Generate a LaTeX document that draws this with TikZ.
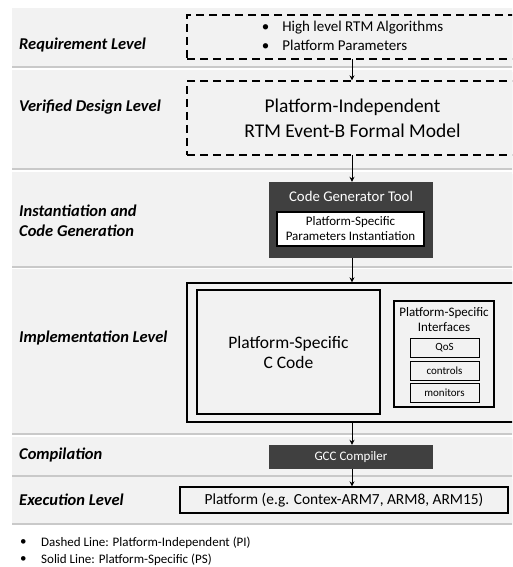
\documentclass[tikz,border=0pt]{standalone}
\usepackage{fontspec}
\setmainfont{Carlito}[BoldFont=Carlito Bold, ItalicFont=Carlito Italic, BoldItalicFont=Carlito Bold Italic]
\usetikzlibrary{shadows,calc,arrows.meta}
\definecolor{bandgray}{HTML}{F2F2F2}
\definecolor{darkbox}{HTML}{404040}
\tikzset{
  band/.style={fill=bandgray, drop shadow={shadow xshift=0pt, shadow yshift=-1.6pt, opacity=.35, fill=black!60}},
  lvl/.style={anchor=west, inner sep=0pt, font=\fontsize{16.5}{20}\selectfont\bfseries\itshape, align=left},
  pibox/.style={draw, dashed, dash pattern=on 8pt off 5pt, line width=1.3pt, inner sep=0pt},
  psbox/.style={draw, line width=1.3pt, inner sep=0pt, align=center},
  thinbox/.style={draw, line width=0.8pt, inner sep=0pt, align=center},
  toolbox/.style={fill=darkbox, inner sep=0pt, text=white},
  arr/.style={-{Stealth[length=5pt,width=5pt]}, line width=0.9pt},
  legend/.style={anchor=west, inner sep=0pt, font=\fontsize{13}{15}\selectfont},
}
\begin{document}
\begin{tikzpicture}[x=1pt,y=-1pt]
\clip (0,0) rectangle (512,567);
\fill[white] (0,0) rectangle (512,567);

% level bands
\fill[band] (12,8) rectangle (520,66);
\fill[band] (12,70) rectangle (520,168);
\fill[band] (12,172) rectangle (520,266);
\fill[band] (12,269) rectangle (520,433);
\fill[band] (12,437) rectangle (520,475);
\fill[band] (12,477) rectangle (520,523);

% level labels
\node[lvl] (lreq) at (19,45) {Requirement Level};
\node[lvl] (lver) at (19,107) {Verified Design Level};
\node[lvl] (linst) at (19,221) {Instantiation and\\Code Generation};
\node[lvl] (limpl) at (19,338) {Implementation Level};
\node[lvl] (lcomp) at (19,455) {Compilation};
\node[lvl] (lexec) at (19,500) {Execution Level};

% requirement level
\node[pibox, minimum width=331pt, minimum height=44pt, font=\fontsize{15}{20}\selectfont] (req) at (352.5,37)
  {\begin{tabular}{@{}l@{\hspace{13pt}}l@{}}\textbullet & High level RTM Algorithms\\[-1pt] \textbullet & Platform Parameters\end{tabular}};

% verified design level
\node[pibox, minimum width=331pt, minimum height=74pt, align=center, font=\fontsize{19.5}{25}\selectfont] (ver) at (352.5,118)
  {Platform-Independent\\RTM Event-B Formal Model};

% code generation
\node[toolbox, minimum width=164pt, minimum height=76pt] (gen) at (351,220) {};
\node[text=white, inner sep=0pt, font=\fontsize{14.8}{17}\selectfont] (gent) at (351,196) {Code Generator Tool};
\node[psbox, fill=white, line width=1.2pt, minimum width=147pt, minimum height=34pt, font=\fontsize{13}{15}\selectfont] (inst) at (350.5,229)
  {Platform-Specific\\Parameters Instantiation};

% implementation level
\node[psbox, minimum width=331pt, minimum height=139pt] (impl) at (352.5,352.5) {};
\node[psbox, minimum width=183pt, minimum height=124pt, font=\fontsize{17.5}{20}\selectfont] (ccode) at (288.5,352) {Platform-Specific\\C Code};
\node[psbox, minimum width=100pt, minimum height=106pt] (intf) at (444,354) {};
\node[inner sep=0pt, align=center, font=\fontsize{13}{15}\selectfont] (intft) at (444,319.5) {Platform-Specific\\Interfaces};
\node[thinbox, minimum width=69pt, minimum height=19pt, font=\fontsize{11}{13}\selectfont] (qos) at (444.5,347.5) {QoS};
\node[thinbox, minimum width=69pt, minimum height=19pt, font=\fontsize{11}{13}\selectfont] (ctrl) at (444.5,370.5) {controls};
\node[thinbox, minimum width=69pt, minimum height=19pt, font=\fontsize{11}{13}\selectfont] (mon) at (444.5,392.5) {monitors};

% compilation
\node[toolbox, minimum width=164pt, minimum height=24pt, font=\fontsize{13}{15}\selectfont] (gcc) at (351,457) {GCC Compiler};

% execution level
\node[psbox, minimum width=328pt, minimum height=26pt, font=\fontsize{15.4}{18}\selectfont] (plat) at (344,500) {Platform (e.g. Contex-ARM7, ARM8, ARM15)};

% flow
\draw[arr] (352,59) coordinate (a1) -- (a1 |- ver.north);
\draw[arr] (352,155) coordinate (a2) -- (a2 |- gen.north);
\draw[arr] (352,258) coordinate (a3) -- (a3 |- impl.north);
\draw[arr] (352,422) coordinate (a4) -- (a4 |- gcc.north);
\draw[arr] (352,469) coordinate (a5) -- (a5 |- plat.north);

% legend
\node[legend] (b1) at (20,543) {\textbullet};
\node[legend] (t1) at (41,543) {Dashed Line: Platform-Independent (PI)};
\node[legend] (b2) at (20,560) {\textbullet};
\node[legend] (t2) at (41,560) {Solid Line: Platform-Specific (PS)};
\end{tikzpicture}
\end{document}
